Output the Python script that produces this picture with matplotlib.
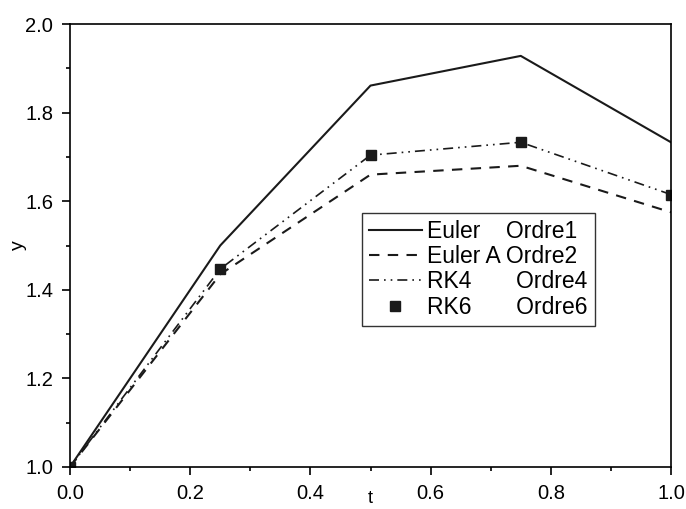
import matplotlib.pyplot as plt
from matplotlib.ticker import MultipleLocator

plt.rcParams['font.family'] = ['Liberation Sans', 'DejaVu Sans']

t = [0.0, 0.25, 0.5, 0.75, 1.0]
euler = [1.0, 1.50, 1.861, 1.928, 1.733]
euler_a = [1.0, 1.435, 1.66, 1.68, 1.575]
rk4 = [1.0, 1.447, 1.704, 1.733, 1.615]
rk6 = [1.0, 1.447, 1.704, 1.733, 1.615]

fig = plt.figure(figsize=(6.86, 5.09), dpi=100)
ax = fig.add_axes([70 / 686, 1 - 467 / 509, 601 / 686, 443 / 509])

ax.plot(t, euler, color='#1a1a1a', lw=1.5, ls='-', label='Euler    Ordre1')
ax.plot(t, euler_a, color='#1a1a1a', lw=1.5, ls=(0, (5, 4)), label='Euler A Ordre2')
ax.plot(t, rk4, color='#1a1a1a', lw=1.2, ls=(0, (6, 3, 1, 3, 1, 3)), label='RK4       Ordre4')
ax.plot(t, rk6, color='#1a1a1a', ls='none', marker='s', ms=7, label='RK6       Ordre6')

ax.set_xlim(0, 1)
ax.set_ylim(1.0, 2.0)
ax.xaxis.set_major_locator(MultipleLocator(0.2))
ax.xaxis.set_minor_locator(MultipleLocator(0.1))
ax.yaxis.set_major_locator(MultipleLocator(0.2))
ax.yaxis.set_minor_locator(MultipleLocator(0.1))
ax.xaxis.set_major_formatter(plt.FormatStrFormatter('%.1f'))
ax.yaxis.set_major_formatter(plt.FormatStrFormatter('%.1f'))
ax.tick_params(which='both', direction='out', top=False, right=False, labelsize=14.5, width=1.2)
ax.tick_params(which='major', length=6, pad=6)
ax.tick_params(which='minor', length=3)
for s in ax.spines.values():
    s.set_linewidth(1.2)

ax.set_xlabel('t', fontsize=13, va='center')
ax.xaxis.set_label_coords(0.5, -0.07)
ax.set_ylabel('y', fontsize=14, va='center')
ax.yaxis.set_label_coords(-0.085, 0.5)

leg = ax.legend(loc='upper left', bbox_to_anchor=(292 / 601, 1 - 189 / 443), fontsize=16.5,
                frameon=True, fancybox=False, edgecolor='#333333', framealpha=1,
                handlelength=2.3, handletextpad=0.25, borderpad=0.3, labelspacing=0.1,
                borderaxespad=0)
leg.get_frame().set_linewidth(1.0)

plt.savefig('out.png', dpi=100)
